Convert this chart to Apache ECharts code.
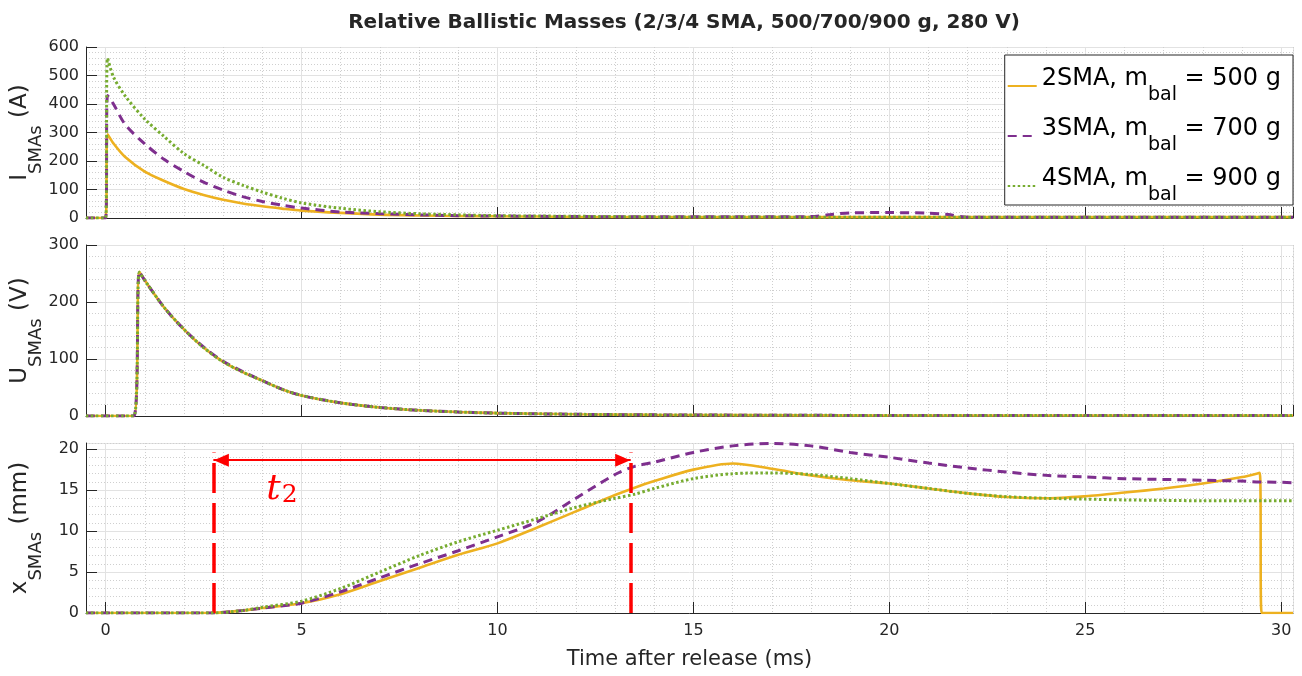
<!DOCTYPE html>
<html>
<head>
<meta charset="utf-8">
<script src="https://cdn.jsdelivr.net/npm/echarts@6/dist/echarts.min.js"></script>
<style>html,body{margin:0;padding:0;background:#fff}#c{width:1302px;height:676px}</style>
</head>
<body>
<div id="c"></div>
<script>
// ---- data ----
const seriesNames = ['2SMA', '3SMA', '4SMA'];
const masses = ['500', '700', '900'];

// current (A)
const tI = [-0.5, 0, 0.05, 0.2, 0.5, 1, 1.5, 2, 2.5, 3, 3.5, 4, 4.5, 5, 6, 7, 8, 9, 10, 11, 12, 14, 16, 18, 18.5, 19, 20, 21, 21.5, 22, 24, 26, 28, 30, 30.3];
const i2 = [0, 0, 294, 262, 214, 163, 130, 102, 81, 64, 51, 41, 33, 26, 18, 12, 9, 7, 6, 5, 4, 3.5, 3, 3, 3, 3, 3, 3, 3, 3, 3, 3, 3, 3, 3];
const i3 = [0, 0, 430, 400, 328, 260, 205, 163, 126, 98, 75, 58, 45, 35, 21, 15, 11, 8, 7, 6, 5, 4, 4, 5, 12, 18, 19, 17, 12, 3, 3, 3, 3, 3, 3];
const i4 = [0, 0, 561, 495, 428, 347, 285, 226, 185, 143, 115, 91, 70, 53, 34, 22, 15, 11, 8, 7, 6, 4, 3.5, 3, 3, 3, 3, 3, 3, 3, 3, 3, 3, 3, 3];

// voltage (V)
const tU = [-0.5, 0.72, 0.86, 1, 1.5, 2, 2.5, 3, 3.5, 4, 4.5, 5, 6, 7, 8, 9, 10, 12, 14, 16, 20, 25, 30.3];
const u2 = [0, 0, 253, 238, 190, 152, 120, 95, 77, 62, 47, 36, 23, 15, 10, 7, 5, 3, 2, 1.5, 1, 1, 1];
const u3 = [0, 0, 253, 238, 190, 152, 121, 96, 78, 62, 47, 36, 23, 15, 10, 7, 5, 3, 2, 1.5, 1, 1, 1];
const u4 = [0, 0, 252, 238, 190, 152, 120, 95, 77, 62, 47, 36, 23, 15, 10, 7, 5, 3, 2, 1.5, 1, 1, 1];

// displacement (mm)
const tX = [-0.5, 2.7, 3.5, 4, 5, 6, 7, 8, 9, 10, 11, 12, 13, 13.5, 14, 15, 16, 17, 18, 19, 20, 21, 22, 23, 24, 25, 26, 27, 28, 29, 29.45, 29.5, 30.3];
const x2 = [0, 0, 0.3, 0.6, 1.2, 2.3, 3.9, 5.5, 7.1, 8.5, 10.4, 12.4, 14.4, 15.3, 16.1, 17.5, 18.25, 17.6, 16.8, 16.2, 15.8, 15.2, 14.6, 14.15, 14.0, 14.25, 14.7, 15.2, 15.8, 16.6, 17.1, 0, 0];
const x3 = [0, 0, 0.3, 0.6, 1.2, 2.6, 4.3, 6.0, 7.6, 9.3, 11.1, 14.0, 16.9, 17.9, 18.4, 19.6, 20.4, 20.7, 20.4, 19.6, 19.0, 18.3, 17.7, 17.2, 16.8, 16.6, 16.4, 16.3, 16.2, 16.1, 16.0, 16.0, 15.9];
const x4 = [0, 0, 0.3, 0.7, 1.45, 3.0, 5.0, 7.0, 8.7, 10.1, 11.5, 12.9, 14.0, 14.5, 15.2, 16.4, 17.0, 17.1, 16.9, 16.4, 15.8, 15.2, 14.6, 14.2, 14.0, 13.9, 13.8, 13.75, 13.7, 13.7, 13.7, 13.7, 13.7];

// t2 annotation (data coordinates of the bottom panel)
const T_START = 2.75, T_END = 13.4, ARROW_Y = 18.65, MARK_TOP = 19.6;
const T2_LABEL = [4.5, 15.0];

// axis ranges
const X_MIN = -0.5, X_MAX = 30.3;
const I_MAX = 600, U_MAX = 300, XD_MAX = 20.75;

// ---- styles ----
const COL = ['#EDB120', '#7E2F8E', '#77AC30'];
const AX = '#262626';
const MAJ = '#e2e2e2';
const MIN = '#cfcfcf';
const FONT = 'DejaVu Sans, Liberation Sans, Arial, sans-serif';

const gridsPos = [
  {left: 86, right: 9, top: 47, height: 171, outerBoundsMode: 'none', containLabel: false},
  {left: 86, right: 9, top: 245, height: 171, outerBoundsMode: 'none', containLabel: false},
  {left: 86, right: 9, top: 443, height: 170, outerBoundsMode: 'none', containLabel: false}
];

function mainX(g, labels) {
  const ax = {
    type: 'value', gridIndex: g, min: X_MIN, max: X_MAX, minInterval: 5, maxInterval: 5,
    axisLine: {show: true, onZero: false, lineStyle: {color: AX, width: 1}},
    axisTick: {show: true, inside: true, length: 11, lineStyle: {color: AX}},
    axisLabel: {show: labels, showMinLabel: false, showMaxLabel: false, color: AX, fontSize: 16, margin: 10, fontFamily: FONT},
    splitLine: {show: true, lineStyle: {color: MAJ, width: 1}}
  };
  if (labels) {
    ax.name = 'Time after release (ms)';
    ax.nameLocation = 'middle';
    ax.nameGap = 36;
    ax.nameMoveOverlap = false;
    ax.nameTextStyle = {fontSize: 21, color: AX, fontFamily: FONT};
  }
  return ax;
}
function minorX(g) {
  return {
    type: 'value', gridIndex: g, min: X_MIN, max: X_MAX, minInterval: 1, maxInterval: 1,
    axisLine: {show: false}, axisTick: {show: false}, axisLabel: {show: false},
    splitLine: {show: true, lineStyle: {color: [MIN, 'transparent', MIN, MIN, MIN], type: [1, 2], width: 1}}
  };
}
const nameRich = {
  m: {fontSize: 23, verticalAlign: 'top', color: AX, fontFamily: FONT},
  s: {fontSize: 18, verticalAlign: 'top', padding: [18, 0, 0, 0], color: AX, fontFamily: FONT}
};
function mainY(g, max, interval, name, minorGrid) {
  const ax = {
    type: 'value', gridIndex: g, min: 0, max: max,
    axisLine: {show: true, onZero: false, lineStyle: {color: AX, width: 1}},
    axisTick: {show: true, inside: true, length: 11, lineStyle: {color: AX}},
    axisLabel: {color: AX, fontSize: 16, margin: 7, showMaxLabel: minorGrid, fontFamily: FONT},
    splitLine: {show: true, lineStyle: {color: MAJ, width: 1}},
    name: name, nameLocation: 'middle', nameRotate: 90, nameGap: 41,
    nameMoveOverlap: false,
    nameTextStyle: {rich: nameRich}
  };
  if (minorGrid) {
    ax.interval = interval;
    ax.minorTick = {show: false, splitNumber: 5};
    ax.minorSplitLine = {show: true, lineStyle: {color: MIN, type: [1, 2], width: 1}};
  } else {
    ax.minInterval = interval; ax.maxInterval = interval;
  }
  return ax;
}
function minorY(g, max) {
  return {
    type: 'value', gridIndex: g, min: 0, max: max, minInterval: 1, maxInterval: 1, position: 'left',
    axisLine: {show: false}, axisTick: {show: false}, axisLabel: {show: false},
    splitLine: {show: true, lineStyle: {color: ['transparent', MIN, MIN, MIN, MIN], type: [1, 2], width: 1}}
  };
}

const lineStyles = [
  {color: COL[0], width: 2.6, type: 'solid'},
  {color: COL[1], width: 3, type: [9, 6]},
  {color: COL[2], width: 3, type: [2.5, 2.5]}
];
function pairs(t, v) { return t.map((x, i) => [x, v[i]]); }
function mk(k, xi, yi, t, v) {
  return {
    name: seriesNames[k], type: 'line', xAxisIndex: xi, yAxisIndex: yi,
    data: pairs(t, v), showSymbol: false, symbol: 'none',
    smooth: 0.3,
    lineStyle: lineStyles[k], itemStyle: {color: COL[k]},
    animation: false, z: 3 + k
  };
}

const xAxes = [mainX(0, false), mainX(1, false), mainX(2, true), minorX(0), minorX(1), minorX(2)];
const yAxes = [
  mainY(0, I_MAX, 100, '{m|I}{s|SMAs}{m| (A)}', true),
  mainY(1, U_MAX, 100, '{m|U}{s|SMAs}{m| (V)}', true),
  mainY(2, XD_MAX, 5, '{m|x}{s|SMAs}{m| (mm)}', false),
  minorY(2, XD_MAX)
];

const series = [
  mk(0, 0, 0, tI, i2), mk(1, 0, 0, tI, i3), mk(2, 0, 0, tI, i4),
  mk(0, 1, 1, tU, u2), mk(1, 1, 1, tU, u3), mk(2, 1, 1, tU, u4),
  mk(0, 2, 2, tX, x2), mk(1, 2, 2, tX, x3), mk(2, 2, 2, tX, x4)
];
const RED = '#ff0000';
// dashed verticals + arrow shaft
series[6].markLine = {
  silent: true, animation: false, symbol: ['none', 'none'], label: {show: false},
  emphasis: {disabled: true},
  data: [
    [{coord: [T_START, 0], lineStyle: {color: RED, width: 3.5, type: [30, 10]}}, {coord: [T_START, MARK_TOP]}],
    [{coord: [T_END, 0], lineStyle: {color: RED, width: 3.5, type: [30, 10]}}, {coord: [T_END, MARK_TOP]}],
    [{coord: [T_START, ARROW_Y], lineStyle: {color: RED, width: 2, type: 'solid'}}, {coord: [T_END, ARROW_Y]}]
  ]
};
series[7].markPoint = {
  silent: true, animation: false,
  data: [
    {coord: [T_START, ARROW_Y], symbol: 'triangle', symbolSize: [13, 15], symbolRotate: 90, symbolOffset: [8, 0], itemStyle: {color: RED}, label: {show: false}},
    {coord: [T_END, ARROW_Y], symbol: 'triangle', symbolSize: [13, 15], symbolRotate: -90, symbolOffset: [-8, 0], itemStyle: {color: RED}, label: {show: false}},
    {coord: T2_LABEL, symbol: 'circle', symbolSize: 1, itemStyle: {color: 'rgba(0,0,0,0)'},
     label: {show: true, position: 'inside', formatter: '{t|t}{n|2}',
       rich: {
         t: {fontFamily: 'DejaVu Serif', fontStyle: 'italic', fontSize: 36, lineHeight: 36, verticalAlign: 'top', color: RED},
         n: {fontFamily: 'DejaVu Serif', fontSize: 25, lineHeight: 25, verticalAlign: 'bottom', padding: [20, 0, 0, 1], color: RED}
       }}}
  ]
};

const legendRich = {
  m: {fontSize: 24, verticalAlign: 'top', color: '#000', fontFamily: FONT},
  s: {fontSize: 19, verticalAlign: 'top', padding: [19, 0, 0, 0], color: '#000', fontFamily: FONT}
};

const option = {
  animation: false,
  backgroundColor: '#fff',
  textStyle: {fontFamily: FONT},
  title: {
    text: 'Relative Ballistic Masses (2/3/4 SMA, 500/700/900 g, 280 V)',
    left: 679, top: 8, textAlign: 'center',
    textStyle: {fontSize: 20, fontWeight: 'bold', color: AX, fontFamily: FONT}
  },
  legend: {
    data: seriesNames, orient: 'vertical', right: 9, top: 55,
    itemWidth: 29, itemHeight: 14, itemGap: 12,
    padding: [12, 12, 0, 2],
    itemStyle: {opacity: 0},
    backgroundColor: '#fff', borderColor: AX, borderWidth: 1,
    selectedMode: false,
    formatter: name => '{m|' + name + ', m}{s|bal}{m| = ' + masses[seriesNames.indexOf(name)] + ' g}',
    textStyle: {rich: legendRich}
  },
  grid: gridsPos,
  xAxis: xAxes,
  yAxis: yAxes,
  series: series
};

const chart = echarts.init(document.getElementById('c'), null, {renderer: 'canvas'});
chart.setOption(option);
</script>
</body>
</html>
